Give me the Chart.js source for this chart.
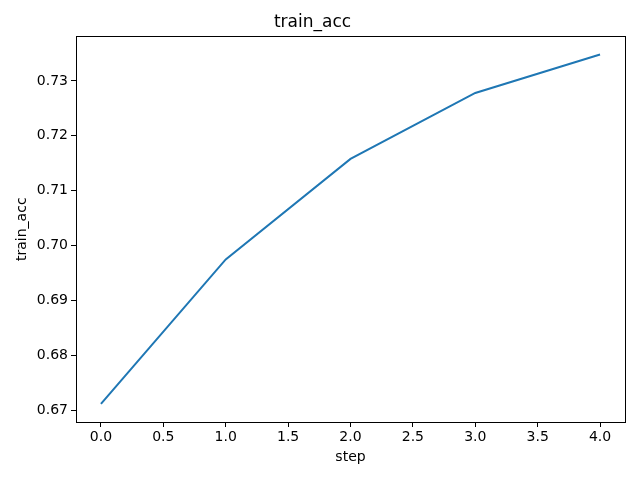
<!DOCTYPE html>
<html>
<head>
<meta charset="utf-8">
<script src="https://cdn.jsdelivr.net/npm/chart.js@4.4.0/dist/chart.umd.min.js"></script>
<style>
  html, body { margin: 0; padding: 0; background: #fff; }
  #wrap { width: 640px; height: 480px; }
</style>
</head>
<body>
<div id="wrap"><canvas id="chart" width="640" height="480"></canvas></div>
<script>
// values
const steps = [0, 1, 2, 3, 4];
const trainAcc = [0.6712, 0.6975, 0.7158, 0.7278, 0.7348];
const xTicks = [0.0, 0.5, 1.0, 1.5, 2.0, 2.5, 3.0, 3.5, 4.0];
const yTicks = [0.67, 0.68, 0.69, 0.70, 0.71, 0.72, 0.73];

const font = "'DejaVu Sans', sans-serif";

// matplotlib-style box round the axes
const frame = {
  id: 'frame',
  afterDraw(chart) {
    const { ctx, chartArea: a } = chart;
    ctx.save();
    ctx.strokeStyle = '#000';
    ctx.lineWidth = 1;
    ctx.strokeRect(Math.round(a.left) + 0.5, Math.round(a.top) + 0.5,
      Math.round(a.right - a.left), Math.round(a.bottom - a.top));
    ctx.restore();
  }
};

const ctx = document.getElementById('chart').getContext('2d');
new Chart(ctx, {
  type: 'line',
  data: {
    datasets: [{
      label: 'train_acc',
      data: steps.map((s, i) => ({ x: s, y: trainAcc[i] })),
      borderColor: '#1f77b4',
      borderWidth: 2,
      pointRadius: 0,
      tension: 0,
      fill: false
    }]
  },
  options: {
    responsive: false,
    animation: false,
    layout: { padding: { right: 15, top: 0, left: 0, bottom: 0 } },
    plugins: {
      legend: { display: false },
      tooltip: { enabled: false },
      title: {
        display: true,
        text: 'train_acc',
        color: '#000',
        font: { family: font, size: 17, weight: 'normal' },
        padding: { top: 12, bottom: 4 }
      }
    },
    scales: {
      x: {
        type: 'linear',
        min: -0.2,
        max: 4.2,
        afterBuildTicks: s => { s.ticks = xTicks.map(v => ({ value: v })); },
        afterFit: s => { s.height = 58; },
        ticks: {
          color: '#000',
          font: { family: font, size: 14 },
          padding: 2,
          maxRotation: 0,
          callback: v => v.toFixed(1)
        },
        grid: { drawOnChartArea: false, drawTicks: true, tickLength: 5, color: '#000' },
        border: { display: true, color: '#000' },
        title: {
          display: true,
          text: 'step',
          color: '#000',
          font: { family: font, size: 14 },
          padding: { top: 0, bottom: 14 }
        }
      },
      y: {
        type: 'linear',
        min: 0.6679,
        max: 0.7381,
        afterBuildTicks: s => { s.ticks = yTicks.map(v => ({ value: v })); },
        afterFit: s => { s.width = 76; },
        ticks: {
          color: '#000',
          font: { family: font, size: 14 },
          padding: 3,
          callback: v => v.toFixed(2)
        },
        grid: { drawOnChartArea: false, drawTicks: true, tickLength: 5, color: '#000' },
        border: { display: true, color: '#000' },
        title: {
          display: true,
          text: 'train_acc',
          color: '#000',
          font: { family: font, size: 14 },
          padding: { top: 14, bottom: 0 }
        }
      }
    }
  },
  plugins: [frame]
});
</script>
</body>
</html>
